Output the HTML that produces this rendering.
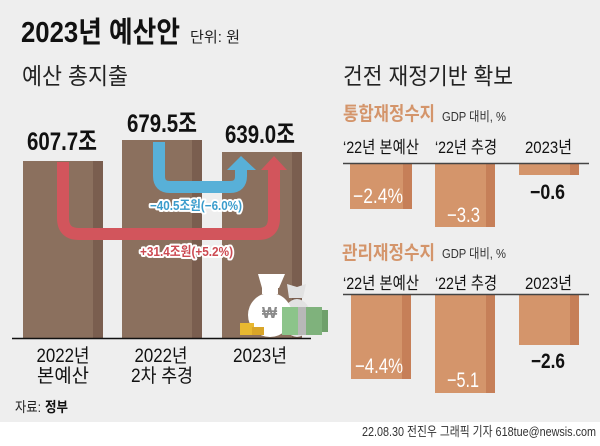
<!DOCTYPE html>
<html><head><meta charset="utf-8">
<style>
html,body{margin:0;padding:0;background:#fff;}
svg{display:block;}
text{font-family:"Liberation Sans","Noto Sans CJK KR",sans-serif;}
</style></head>
<body>
<svg width="600" height="446" viewBox="0 0 600 446" xmlns="http://www.w3.org/2000/svg">
<rect x="0" y="0" width="600" height="422" fill="#eeeeee"/>

<!-- Title -->
<text x="21" y="42" font-size="29" font-weight="600" fill="#111" textLength="159" lengthAdjust="spacingAndGlyphs">2023년 예산안</text>
<text x="190" y="42" font-size="15" fill="#222" textLength="50" lengthAdjust="spacingAndGlyphs">단위: 원</text>
<text x="22" y="84" font-size="23" fill="#222" textLength="106" lengthAdjust="spacingAndGlyphs">예산 총지출</text>

<!-- Left bars -->
<rect x="23" y="161" width="80" height="177" fill="#8b705e"/>
<rect x="93" y="161" width="10" height="177" fill="#7a5e4f"/>
<rect x="122" y="140" width="80" height="198" fill="#8b705e"/>
<rect x="192" y="140" width="10" height="198" fill="#7a5e4f"/>
<rect x="222" y="152" width="80" height="186" fill="#8b705e"/>
<rect x="292" y="152" width="10" height="186" fill="#7a5e4f"/>

<!-- values -->
<text x="27" y="150" font-size="25" font-weight="bold" fill="#111" textLength="70" lengthAdjust="spacingAndGlyphs">607.7조</text>
<text x="127" y="132" font-size="25" font-weight="bold" fill="#111" textLength="70" lengthAdjust="spacingAndGlyphs">679.5조</text>
<text x="225" y="143" font-size="25" font-weight="bold" fill="#111" textLength="70" lengthAdjust="spacingAndGlyphs">639.0조</text>

<!-- red arrow -->
<path d="M63,162 V218 Q63,234 79,234 H258 Q274,234 274,218 V169" fill="none" stroke="#d2555c" stroke-width="12"/>
<polygon points="261,170 287,170 274,156" fill="#d2555c"/>
<!-- blue arrow -->
<path d="M159,142 V176 Q159,187 170,187 H230 Q241,187 241,176 V169" fill="none" stroke="#58b0d8" stroke-width="12"/>
<polygon points="227,170 256,170 241,156" fill="#58b0d8"/>

<text x="150" y="210" font-size="13" font-weight="bold" fill="#3a9ccc" stroke="#fff" stroke-width="4" stroke-linejoin="round" paint-order="stroke" textLength="92" lengthAdjust="spacingAndGlyphs">−40.5조원(−6.0%)</text>
<text x="140" y="256" font-size="13" font-weight="bold" fill="#cc4a52" stroke="#fff" stroke-width="4" stroke-linejoin="round" paint-order="stroke" textLength="93" lengthAdjust="spacingAndGlyphs">+31.4조원(+5.2%)</text>

<!-- money bags -->
<g>
  <ellipse cx="297" cy="318" rx="14" ry="19" fill="#e2e2e2"/>
  <path d="M289,298 L303,298 L306,284 L297,287 L287,284 Z" fill="#e2e2e2"/>
  <ellipse cx="270" cy="315" rx="22" ry="22" fill="#ffffff"/>
  <rect x="262" y="288" width="16" height="6" fill="#ffffff"/>
  <path d="M258,274 L285,274 L279,288 L262,288 Z" fill="#ffffff"/>
  <text x="262" y="318" font-size="16" font-weight="bold" fill="#8a8a8a">₩</text>
  <rect x="240" y="323" width="14" height="12" fill="#e8b830"/>
  <rect x="252" y="327" width="12" height="8" fill="#d9a528"/>
  <rect x="282" y="307" width="16" height="28" fill="#8cc48a"/>
  <rect x="298" y="307" width="8" height="28" fill="#b8b8b8"/>
  <rect x="306" y="307" width="16" height="28" fill="#7fb27c"/>
  <rect x="322" y="310" width="6" height="22" fill="#6fa06b"/>
</g>

<!-- baseline -->
<line x1="12" y1="338.5" x2="311" y2="338.5" stroke="#111" stroke-width="1.6"/>

<!-- x labels -->
<text x="63" y="362" font-size="19" fill="#111" text-anchor="middle" textLength="53" lengthAdjust="spacingAndGlyphs">2022년</text>
<text x="63" y="382" font-size="19" fill="#111" text-anchor="middle" textLength="52" lengthAdjust="spacingAndGlyphs">본예산</text>
<text x="161" y="362" font-size="19" fill="#111" text-anchor="middle" textLength="53" lengthAdjust="spacingAndGlyphs">2022년</text>
<text x="162" y="382" font-size="19" fill="#111" text-anchor="middle" textLength="62" lengthAdjust="spacingAndGlyphs">2차 추경</text>
<text x="260" y="362" font-size="19" fill="#111" text-anchor="middle" textLength="54" lengthAdjust="spacingAndGlyphs">2023년</text>

<text x="15" y="412" font-size="14" fill="#222" textLength="26" lengthAdjust="spacingAndGlyphs">자료:</text>
<text x="45" y="412" font-size="14" font-weight="bold" fill="#111" textLength="23" lengthAdjust="spacingAndGlyphs">정부</text>

<!-- Right panel -->
<text x="343" y="84" font-size="23" fill="#222" textLength="170" lengthAdjust="spacingAndGlyphs">건전 재정기반 확보</text>

<text x="343" y="120" font-size="19" font-weight="bold" fill="#d4956b" textLength="92" lengthAdjust="spacingAndGlyphs">통합재정수지</text>
<text x="442" y="121" font-size="13" fill="#333" textLength="64" lengthAdjust="spacingAndGlyphs">GDP 대비, %</text>
<text x="343" y="153" font-size="17" fill="#111" textLength="76" lengthAdjust="spacingAndGlyphs">‘22년 본예산</text>
<text x="435" y="153" font-size="17" fill="#111" textLength="62" lengthAdjust="spacingAndGlyphs">‘22년 추경</text>
<text x="525" y="153" font-size="17" fill="#111" textLength="47" lengthAdjust="spacingAndGlyphs">2023년</text>

<rect x="350" y="164" width="62" height="45" fill="#d4956b"/>
<rect x="403" y="164" width="9" height="45" fill="#c67f58"/>
<rect x="435" y="164" width="60" height="63" fill="#d4956b"/>
<rect x="486" y="164" width="9" height="63" fill="#c67f58"/>
<rect x="519" y="164" width="60" height="11" fill="#d4956b"/>
<rect x="570" y="164" width="9" height="11" fill="#c67f58"/>
<line x1="343" y1="163.5" x2="589" y2="163.5" stroke="#444" stroke-width="1.4"/>

<text x="353" y="203" font-size="21" fill="#fff" textLength="50" lengthAdjust="spacingAndGlyphs">−2.4%</text>
<text x="447" y="222" font-size="21" fill="#fff" textLength="33" lengthAdjust="spacingAndGlyphs">−3.3</text>
<text x="530" y="199" font-size="21" font-weight="bold" fill="#111" textLength="35" lengthAdjust="spacingAndGlyphs">−0.6</text>

<text x="342" y="259" font-size="19" font-weight="bold" fill="#d4956b" textLength="93" lengthAdjust="spacingAndGlyphs">관리재정수지</text>
<text x="442" y="258" font-size="13" fill="#333" textLength="64" lengthAdjust="spacingAndGlyphs">GDP 대비, %</text>
<text x="343" y="289" font-size="17" fill="#111" textLength="76" lengthAdjust="spacingAndGlyphs">‘22년 본예산</text>
<text x="435" y="289" font-size="17" fill="#111" textLength="62" lengthAdjust="spacingAndGlyphs">‘22년 추경</text>
<text x="525" y="289" font-size="17" fill="#111" textLength="47" lengthAdjust="spacingAndGlyphs">2023년</text>

<rect x="351" y="295" width="60" height="84" fill="#d4956b"/>
<rect x="402" y="295" width="9" height="84" fill="#c67f58"/>
<rect x="435" y="295" width="60" height="98" fill="#d4956b"/>
<rect x="486" y="295" width="9" height="98" fill="#c67f58"/>
<rect x="519" y="295" width="60" height="50" fill="#d4956b"/>
<rect x="570" y="295" width="9" height="50" fill="#c67f58"/>
<line x1="343" y1="294.5" x2="589" y2="294.5" stroke="#444" stroke-width="1.4"/>

<text x="355" y="373" font-size="21" fill="#fff" textLength="48" lengthAdjust="spacingAndGlyphs">−4.4%</text>
<text x="447" y="387" font-size="21" fill="#fff" textLength="32" lengthAdjust="spacingAndGlyphs">−5.1</text>
<text x="531" y="368" font-size="21" font-weight="bold" fill="#111" textLength="34" lengthAdjust="spacingAndGlyphs">−2.6</text>

<!-- credit -->
<text x="362" y="436" font-size="13" fill="#333" textLength="234" lengthAdjust="spacingAndGlyphs">22.08.30 전진우 그래픽 기자 618tue@newsis.com</text>
</svg>
</body></html>
